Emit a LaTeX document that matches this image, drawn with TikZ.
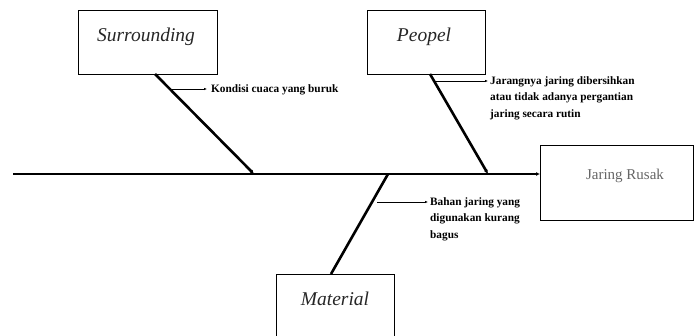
\documentclass[tikz,border=0pt]{standalone}
\usepackage{fontspec}
\setmainfont{Liberation Serif}
\usetikzlibrary{arrows.meta}
\begin{document}
\begin{tikzpicture}[x=1pt,y=-1pt,
  catbox/.style={draw,line width=0.8pt,rectangle,inner sep=0pt,anchor=north west},
  cattext/.style={font=\itshape\fontsize{19.5}{19.5}\selectfont,text=black!85},
  bone/.style={line width=2.6pt,-{Latex[length=4pt,width=4pt]}},
  causearrow/.style={line width=0.6pt,-{Latex[length=3pt,width=2.5pt]}},
  causetext/.style={font=\bfseries\fontsize{11.3}{16.5}\selectfont,align=left,anchor=north west,inner sep=0pt}]
\useasboundingbox (0,0) rectangle (694,336);
% boxes
\node[catbox,minimum width=139pt,minimum height=64pt] (sur) at (78,10) {};
\node[cattext] (surt) at (146,37) {Surrounding};
\node[catbox,minimum width=118pt,minimum height=64pt] (peo) at (367,10) {};
\node[cattext] (peot) at (424,37) {Peopel};
\node[catbox,minimum width=118pt,minimum height=70pt] (mat) at (276,274) {};
\node[cattext] (matt) at (335,299) {Material};
\node[catbox,minimum width=153pt,minimum height=75pt] (eff) at (540,145) {};
\node[font=\fontsize{15}{15}\selectfont,text=black!60] (efft) at (625,176) {Jaring Rusak};
% spine
\coordinate (tail) at (13,174);
\coordinate (head) at (540,174);
\draw[bone] (tail) -- (head);
% branches
\coordinate (s1) at (155,74);
\coordinate (s2) at (254,174);
\draw[bone] (s1) -- (s2);
\coordinate (p1) at (430,74);
\coordinate (p2) at (488,174);
\draw[bone] (p1) -- (p2);
\coordinate (m1) at (331,274);
\coordinate (m2) at (388,174);
\draw[line width=2.6pt] (m1) -- (m2);
% causes
\coordinate (sa) at (171,89);
\node[causetext] (sc) at (211,84) {Kondisi cuaca yang buruk};
\draw[causearrow] (sa) -- (207,89);
\coordinate (pa) at (434,81);
\node[causetext] (pc) at (490,76) {Jarangnya jaring dibersihkan\\atau tidak adanya pergantian\\jaring secara rutin};
\draw[causearrow] (pa) -- (488,81);
\coordinate (ma) at (377,202);
\node[causetext] (mc) at (430,197) {Bahan jaring yang\\digunakan kurang\\bagus};
\draw[causearrow] (ma) -- (428,202);
\end{tikzpicture}
\end{document}
